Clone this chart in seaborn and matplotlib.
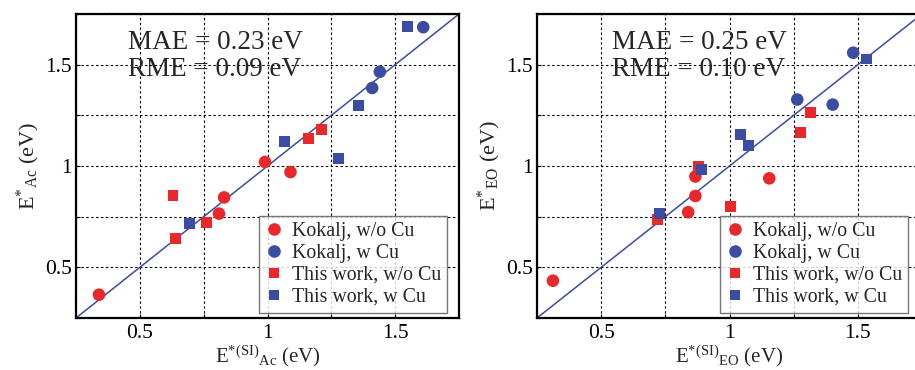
import numpy as np
import pandas as pd
import seaborn as sns
import matplotlib
matplotlib.use("Agg")
import matplotlib.pyplot as plt
from matplotlib.ticker import FixedLocator

# ---------------- data ----------------
labels = ["Kokalj, w/o Cu", "Kokalj, w Cu", "This work, w/o Cu", "This work, w Cu"]

# Left panel (Ac)
ac_kok_nocu_x = [0.34, 0.99, 1.09, 0.83, 0.81]
ac_kok_nocu_y = [0.365, 1.02, 0.97, 0.845, 0.765]
ac_kok_cu_x = [1.61, 1.44, 1.41]
ac_kok_cu_y = [1.685, 1.465, 1.385]
ac_tw_nocu_x = [0.63, 0.64, 0.76, 1.16, 1.21]
ac_tw_nocu_y = [0.855, 0.64, 0.72, 1.135, 1.18]
ac_tw_cu_x = [1.55, 1.357, 1.068, 1.279, 0.694]
ac_tw_cu_y = [1.69, 1.30, 1.12, 1.036, 0.715]

# Right panel (EO)
eo_kok_nocu_x = [0.312, 1.155, 0.867, 0.867, 0.839]
eo_kok_nocu_y = [0.434, 0.939, 0.948, 0.852, 0.772]
eo_kok_cu_x = [1.482, 1.264, 1.402]
eo_kok_cu_y = [1.559, 1.328, 1.303]
eo_tw_nocu_x = [0.719, 0.878, 1.005, 1.276, 1.314]
eo_tw_nocu_y = [0.736, 1.0, 0.80, 1.164, 1.264]
eo_tw_cu_x = [1.532, 1.043, 1.075, 0.892, 0.729]
eo_tw_cu_y = [1.528, 1.156, 1.10, 0.985, 0.767]

ac_mae, ac_rme = "0.23", "0.09"
eo_mae, eo_rme = "0.25", "0.10"

major_ticks = [0.5, 1.0, 1.5]
tick_labels = ["0.5", "1", "1.5"]
grid_ticks = [0.25, 0.5, 0.75, 1.0, 1.25, 1.5, 1.75]


def make_df(groups):
    rows = []
    for lab, (xs, ys) in zip(labels, groups):
        for x, y in zip(xs, ys):
            rows.append({"x": x, "y": y, "label": lab})
    return pd.DataFrame(rows)


df_ac = make_df([(ac_kok_nocu_x, ac_kok_nocu_y), (ac_kok_cu_x, ac_kok_cu_y),
                 (ac_tw_nocu_x, ac_tw_nocu_y), (ac_tw_cu_x, ac_tw_cu_y)])
df_eo = make_df([(eo_kok_nocu_x, eo_kok_nocu_y), (eo_kok_cu_x, eo_kok_cu_y),
                 (eo_tw_nocu_x, eo_tw_nocu_y), (eo_tw_cu_x, eo_tw_cu_y)])

# ---------------- style ----------------
sns.set_style("white")
plt.rcParams["font.family"] = ["Liberation Serif", "DejaVu Serif"]
plt.rcParams["mathtext.fontset"] = "custom"
plt.rcParams["mathtext.rm"] = "Liberation Serif"
plt.rcParams["mathtext.it"] = "Liberation Serif:italic"
plt.rcParams["mathtext.bf"] = "Liberation Serif:bold"

RED = "#E8282B"
BLUE = "#3A4DA2"
palette = {labels[0]: RED, labels[1]: BLUE, labels[2]: RED, labels[3]: BLUE}
markers = {labels[0]: "o", labels[1]: "o", labels[2]: "s", labels[3]: "s"}
sizes = {labels[0]: 82, labels[1]: 82, labels[2]: 62, labels[3]: 62}

fig = plt.figure(figsize=(9.15, 3.70), dpi=100)
W, H = 915, 370
ax1 = fig.add_axes([76 / W, 1 - 318 / H, 383 / W, 304 / H])
ax2 = fig.add_axes([537 / W, 1 - 318 / H, 385 / W, 304 / H])
bx_map = {ax1: 0.969, ax2: 0.963}


def draw(ax, df, mae, rme, xl, yl, tx):
    ax.set_xlim(0.25, 1.75)
    ax.set_ylim(0.25, 1.75)
    for g in grid_ticks:
        ax.axvline(g, color="black", lw=0.8, ls=(0, (2.2, 2.2)), zorder=0.5)
        ax.axhline(g, color="black", lw=0.8, ls=(0, (2.2, 2.2)), zorder=0.5)
    ax.plot([0.25, 1.75], [0.25, 1.75], color=BLUE, lw=1.1, zorder=1)
    sns.scatterplot(data=df, x="x", y="y", hue="label", style="label", size="label",
                    hue_order=labels, style_order=labels, size_order=labels,
                    palette=palette, markers=markers, sizes=sizes,
                    linewidth=0, alpha=1, ax=ax, zorder=3)
    ax.xaxis.set_major_locator(FixedLocator(major_ticks))
    ax.yaxis.set_major_locator(FixedLocator(major_ticks))
    ax.set_xticklabels(tick_labels)
    ax.set_yticklabels(tick_labels)
    ax.xaxis.set_minor_locator(FixedLocator([0.25, 0.75, 1.25, 1.75]))
    ax.yaxis.set_minor_locator(FixedLocator([0.25, 0.75, 1.25, 1.75]))
    ax.tick_params(which="both", direction="in", length=3, width=0.8,
                   labelsize=15.5, colors="black", bottom=True, left=True)
    ax.tick_params(axis="x", pad=4)
    ax.tick_params(axis="y", pad=3)
    for s in ax.spines.values():
        s.set_color("black")
        s.set_linewidth(1.6)
    ax.set_xlabel(xl, fontsize=15, labelpad=0.5)
    ax.set_ylabel(yl, fontsize=16, labelpad=2)
    ax.text(tx, 0.905, "MAE = %s eV" % mae, transform=ax.transAxes,
            fontsize=19.5, va="center", ha="left", zorder=4)
    ax.text(tx, 0.816, "RME = %s eV" % rme, transform=ax.transAxes,
            fontsize=19.5, va="center", ha="left", zorder=4)
    leg = ax.legend(loc="upper right", bbox_to_anchor=(bx_map[ax], 0.336),
                    fontsize=14.3, frameon=True, fancybox=False, shadow=False,
                    handlelength=0.9, handletextpad=0.45, borderpad=0.3,
                    labelspacing=0.15, borderaxespad=0)
    leg.get_frame().set_edgecolor("#555555")
    leg.get_frame().set_linewidth(1.0)
    leg.set_zorder(5)


draw(ax1, df_ac, ac_mae, ac_rme,
     r"$\mathrm{E^{*(SI)}{}_{Ac}}$ (eV)", r"$\mathrm{E^{*}{}_{Ac}}$ (eV)", 0.136)
draw(ax2, df_eo, eo_mae, eo_rme,
     r"$\mathrm{E^{*(SI)}{}_{EO}}$ (eV)", r"$\mathrm{E^{*}{}_{EO}}$ (eV)", 0.194)

fig.savefig("out.png", dpi=100)
